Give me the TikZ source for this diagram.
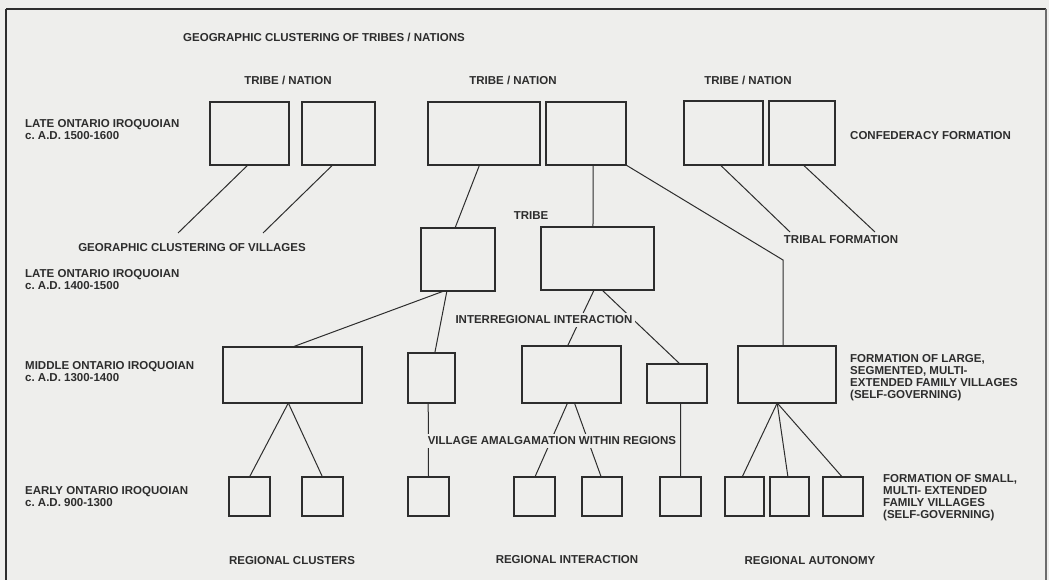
\documentclass[tikz,border=0pt]{standalone}
\usepackage{fontspec}
\setmainfont{Liberation Sans}
\usetikzlibrary{calc}
\definecolor{paper}{RGB}{238,238,236}
\definecolor{ink}{RGB}{45,45,45}
\newcommand{\mkbox}[5]{\node[vbox,minimum width={#4-#2},minimum height={#5-#3}] (#1) at ({(#2+#4)/2},{(#3+#5)/2}) {};}
\frenchspacing
\begin{document}
\begin{tikzpicture}[x=1pt,y=-1pt,
  vbox/.style={draw=ink,line width=1.1pt,inner sep=0pt,outer sep=0pt},
  conn/.style={draw=ink,line width=1pt},
  lbl/.style={text=ink,font=\fontsize{11.5}{12}\selectfont\bfseries,inner sep=0pt},
  lblbg/.style={lbl,fill=paper,inner xsep=0.6pt,inner ysep=3pt},
  side/.style={lbl,align=left,anchor=west}]
\useasboundingbox[fill=paper] (0,0) rectangle (1049,580);
\draw[ink,line width=1.2pt] (6,9) -- (1046,9);
\draw[ink!70,line width=1.2pt] (1046,9) -- (1046,580);
\draw[ink,line width=2.2pt] (6,9) -- (6,580);

% row 1 boxes
\mkbox{A}{210}{102}{289}{165}
\mkbox{B}{302}{102}{375}{165}
\mkbox{C}{428}{102}{540}{165}
\mkbox{D}{546}{102}{626}{165}
\mkbox{E}{684}{101}{763}{165}
\mkbox{F}{769}{101}{835}{165}
% row 2 boxes
\mkbox{T1}{421}{228}{495}{291}
\mkbox{T2}{541}{227}{654}{290}
% row 3 boxes
\mkbox{H}{223}{347}{362}{403}
\mkbox{I}{408}{353}{455}{403}
\mkbox{J}{522}{346}{621}{403}
\mkbox{K}{647}{364}{707}{403}
\mkbox{G}{738}{346}{836}{403}
% row 4 boxes
\mkbox{v1}{229}{477}{270}{516}
\mkbox{v2}{302}{477}{343}{516}
\mkbox{v3}{408}{477}{449}{516}
\mkbox{v4}{514}{477}{555}{516}
\mkbox{v5}{582}{477}{622}{516}
\mkbox{v6}{660}{477}{701}{516}
\mkbox{v7}{725}{477}{764}{516}
\mkbox{v8}{770}{477}{809}{516}
\mkbox{v9}{823}{477}{863}{516}

% free ends
\coordinate (cA) at (178,233);
\coordinate (cB) at (263,233);
\coordinate (cE) at (790,232);
\coordinate (cF) at (875,232);
\coordinate (cG) at (783,260);

% connectors row 1 -> row 2
\draw[conn] ($(A.south west)!0.48!(A.south east)$) -- (cA);
\draw[conn] ($(B.south west)!0.42!(B.south east)$) -- (cB);
\draw[conn] ($(C.south west)!0.46!(C.south east)$) -- ($(T1.north west)!0.46!(T1.north east)$);
\draw[conn] ($(D.south west)!0.59!(D.south east)$) -- ($(T2.north west)!0.46!(T2.north east)$);
\draw[conn] (D.south east) -- (cG) -- ($(G.north west)!0.46!(G.north east)$);
\draw[conn] ($(E.south west)!0.46!(E.south east)$) -- (cE);
\draw[conn] ($(F.south west)!0.52!(F.south east)$) -- (cF);
% row 2 -> row 3
\draw[conn] ($(T1.south west)!0.31!(T1.south east)$) -- ($(H.north west)!0.5!(H.north east)$);
\draw[conn] ($(T1.south west)!0.35!(T1.south east)$) -- ($(I.north west)!0.57!(I.north east)$);
\draw[conn] ($(T2.south west)!0.47!(T2.south east)$) -- ($(J.north west)!0.46!(J.north east)$);
\draw[conn] ($(T2.south west)!0.54!(T2.south east)$) -- ($(K.north west)!0.55!(K.north east)$);
% row 3 -> row 4
\draw[conn] ($(H.south west)!0.47!(H.south east)$) -- (v1.north);
\draw[conn] ($(H.south west)!0.47!(H.south east)$) -- (v2.north);
\draw[conn] ($(I.south west)!0.43!(I.south east)$) -- (v3.north);
\draw[conn] ($(J.south west)!0.46!(J.south east)$) -- ($(v4.north west)!0.51!(v4.north east)$);
\draw[conn] ($(J.south west)!0.53!(J.south east)$) -- ($(v5.north west)!0.48!(v5.north east)$);
\draw[conn] ($(K.south west)!0.56!(K.south east)$) -- (v6.north);
\draw[conn] ($(G.south west)!0.40!(G.south east)$) -- ($(v7.north west)!0.44!(v7.north east)$);
\draw[conn] ($(G.south west)!0.40!(G.south east)$) -- ($(v8.north west)!0.46!(v8.north east)$);
\draw[conn] ($(G.south west)!0.40!(G.south east)$) -- ($(v9.north west)!0.48!(v9.north east)$);

% labels
\node[lbl] (title) at (324,37) {GEOGRAPHIC CLUSTERING OF TRIBES / NATIONS};
\node[lbl] (tn1) at (288,80) {TRIBE / NATION};
\node[lbl] (tn2) at (513,80) {TRIBE / NATION};
\node[lbl] (tn3) at (748,80) {TRIBE / NATION};
\node[side] (p1) at (25,130) {LATE ONTARIO IROQUOIAN\\c. A.D. 1500-1600};
\node[lbl,anchor=west] (conf) at (850,136) {CONFEDERACY FORMATION};
\node[lbl] (tribe) at (531,216) {TRIBE};
\node[lbl] (vill) at (192,248) {GEORAPHIC CLUSTERING OF VILLAGES};
\node[lbl] (tribal) at (841,240) {TRIBAL FORMATION};
\node[side] (p2) at (25,280) {LATE ONTARIO IROQUOIAN\\c. A.D. 1400-1500};
\node[lblbg,inner xsep=3pt] (inter) at (544,320) {INTERREGIONAL INTERACTION};
\node[side] (p3) at (25,372) {MIDDLE ONTARIO IROQUOIAN\\c. A.D. 1300-1400};
\node[side] (large) at (850,378) {FORMATION OF LARGE,\\SEGMENTED, MULTI-\\EXTENDED FAMILY VILLAGES\\(SELF-GOVERNING)};
\node[lblbg,anchor=west] (amal) at (427,441) {VILLAGE AMALGAMATION WITHIN REGIONS};
\node[side] (p4) at (25,497) {EARLY ONTARIO IROQUOIAN\\c. A.D. 900-1300};
\node[side] (small) at (883,498) {FORMATION OF SMALL,\\MULTI- EXTENDED\\FAMILY VILLAGES\\(SELF-GOVERNING)};
\node[lbl] (rc) at (292,561) {REGIONAL CLUSTERS};
\node[lbl] (ri) at (567,560) {REGIONAL INTERACTION};
\node[lbl] (ra) at (810,561) {REGIONAL AUTONOMY};
\end{tikzpicture}
\end{document}
